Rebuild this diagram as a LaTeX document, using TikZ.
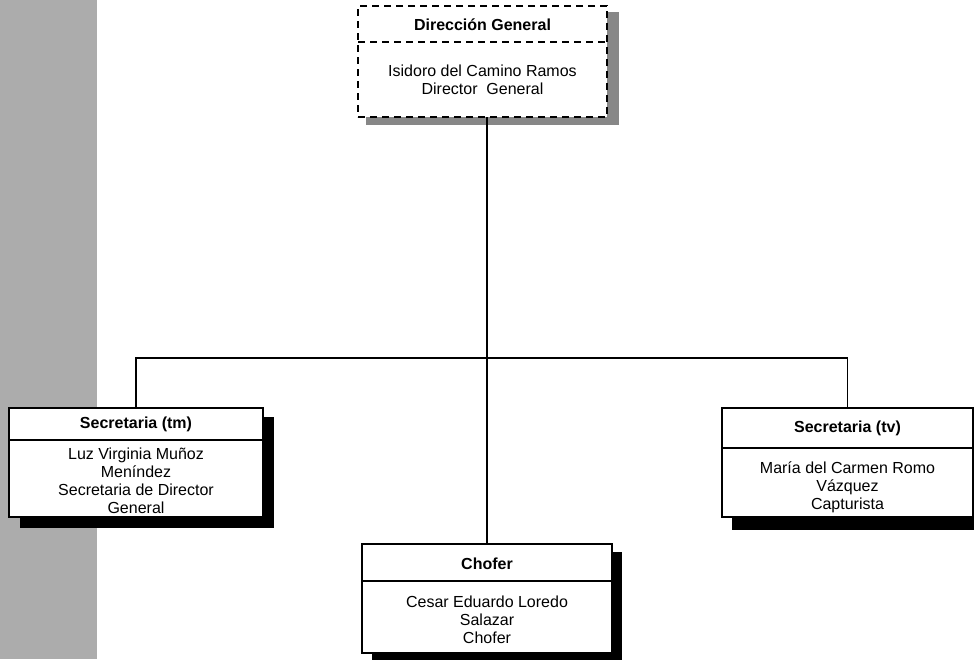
\documentclass[tikz,border=0pt]{standalone}
\usepackage{fontspec}
\setmainfont{Liberation Sans}
\definecolor{stripgray}{RGB}{172,172,172}
\definecolor{shadegray}{RGB}{135,135,135}
\tikzset{
  box/.style={draw=black, line width=1.8pt, fill=white, inner sep=0pt, outer sep=0pt},
  dbox/.style={draw=black, line width=1.4pt, dash pattern=on 7pt off 5pt, fill=white, inner sep=0pt, outer sep=0pt},
  head/.style={font=\bfseries\fontsize{16}{18}\selectfont, inner sep=0pt},
  body/.style={font=\fontsize{16}{18}\selectfont, align=center, inner sep=0pt},
  conn/.style={line width=1.3pt, draw=black},
  divider/.style={line width=1.5pt, draw=black},
  ddivider/.style={line width=1.4pt, draw=black, dash pattern=on 7pt off 5pt},
}
\begin{document}
\begin{tikzpicture}[x=1pt,y=-1pt]
\useasboundingbox (0,0) rectangle (974,659);
\clip (0,0) rectangle (974,659);
% left textured strip
\fill[stripgray] (0,0) rectangle (97,659);
% shadows
\fill[shadegray] (366,12) rectangle (619,125);
\fill[black] (20,417) rectangle (274,528);
\fill[black] (372,552) rectangle (622,666);
\fill[black] (732,417) rectangle (990,530);
% boxes
\node[dbox, minimum width=249pt, minimum height=111pt] (top) at (482.5,61.5) {};
\node[box, minimum width=254pt, minimum height=109pt] (sl) at (136,462.5) {};
\node[box, minimum width=250pt, minimum height=109pt] (ch) at (487,598.5) {};
\node[box, minimum width=251pt, minimum height=109pt] (sr) at (847.5,462.5) {};
% dividers
\draw[ddivider] (top.west |- 0,42) -- (top.east |- 0,42);
\draw[divider] (sl.west |- 0,440) -- (sl.east |- 0,440);
\draw[divider] (ch.west |- 0,581) -- (ch.east |- 0,581);
\draw[divider] (sr.west |- 0,448) -- (sr.east |- 0,448);
% texts
\node[head] (toph) at (482.5,25) {Dirección General};
\node[body] (topb) at (482.5,79.5) {Isidoro del Camino Ramos\\Director\ \ General};
\node[head] (slh) at (136,424.5) {Secretaria (tm)};
\node[body] (slb) at (136,481) {Luz Virginia Muñoz\\Meníndez\\Secretaria de Director\\General};
\node[head] (chh) at (487,564) {Chofer};
\node[body] (chb) at (487,620) {Cesar Eduardo Loredo\\Salazar\\Chofer};
\node[head] (srh) at (847.5,428) {Secretaria (tv)};
\node[body] (srb) at (847.5,487) {María del Carmen Romo\\Vázquez\\Capturista};
% connectors
\coordinate (bus) at (487,358);
\draw[conn] (ch.north |- top.south) -- (ch.north);
\draw[conn] (sl.north) -- (sl.north |- bus) -- (sr.north |- bus) -- (sr.north);
\end{tikzpicture}
\end{document}
